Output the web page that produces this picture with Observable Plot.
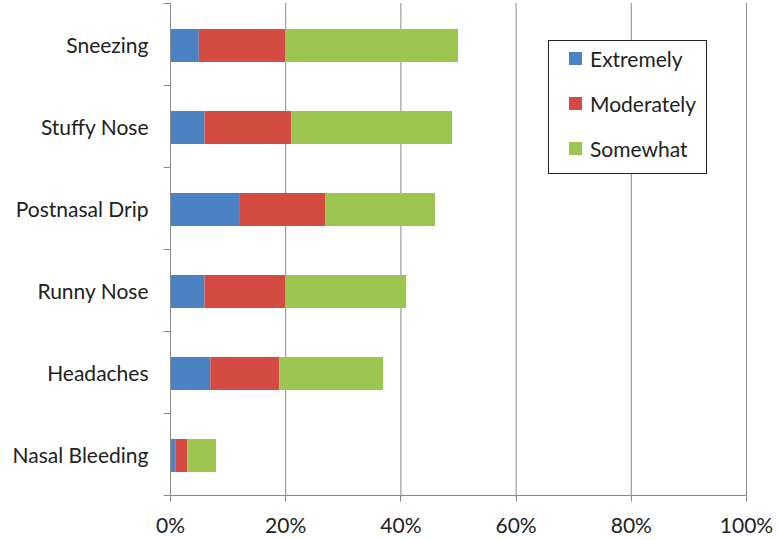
<!DOCTYPE html>
<html>
<head>
<meta charset="utf-8">
<script src="https://cdn.jsdelivr.net/npm/d3@7"></script>
<script src="https://cdn.jsdelivr.net/npm/@observablehq/plot@0.6"></script>
<style>
  html, body { margin: 0; padding: 0; background: #fff; }
  #wrap { position: relative; width: 781px; height: 540px; font-family: Lato, "Open Sans", sans-serif; }
  #legend { position: absolute; left: 548px; top: 40px; width: 159px; height: 134px; border: 1.5px solid #222; box-sizing: border-box; background: #fff; }
  #legend .item { position: absolute; left: 20px; display: flex; align-items: center; font-size: 21px; line-height: 25px; color: #222; }
  #legend .sw { width: 13px; height: 13px; margin-right: 8px; }
</style>
</head>
<body>
<div id="wrap"></div>
<script>
const categories = ["Sneezing", "Stuffy Nose", "Postnasal Drip", "Runny Nose", "Headaches", "Nasal Bleeding"];
const levels = ["Extremely", "Moderately", "Somewhat"];
const extremely = [5, 6, 12, 6, 7, 1];
const moderately = [15, 15, 15, 14, 12, 2];
const somewhat = [30, 28, 19, 21, 18, 5];
const colors = ["#4a82c3", "#d44b43", "#9cc64f"];
const xTicks = [0, 20, 40, 60, 80, 100];

const series = [extremely, moderately, somewhat];
const data = [];
categories.forEach((c, i) => {
  levels.forEach((l, j) => data.push({ category: c, level: l, value: series[j][i] }));
});

const axisLines = (index, scales, values, dims) => {
  const g = d3.create("svg:g").attr("stroke", "#8a8a8a").attr("stroke-width", 1);
  const y = scales.y;
  const step = y.step();
  const x = scales.x;
  const x0 = Math.round(x(0)) + 0.5;
  const top = dims.marginTop;
  const bottom = Math.round(top + categories.length * step) + 0.5;
  for (let k = 0; k < categories.length; k++) {
    const yy = Math.round(top + k * step) + 0.5;
    g.append("line").attr("x1", x0 - 7).attr("x2", x0).attr("y1", yy).attr("y2", yy);
  }
  g.append("line").attr("x1", x0 - 7).attr("x2", x(100)).attr("y1", bottom).attr("y2", bottom);
  xTicks.forEach(t => {
    const xx = Math.round(x(t)) + 0.5;
    g.append("line").attr("x1", xx).attr("x2", xx).attr("y1", bottom).attr("y2", bottom + 6);
  });
  g.append("line").attr("x1", x0).attr("x2", x0).attr("y1", top).attr("y2", bottom);
  return g.node();
};

const chart = Plot.plot({
  width: 781,
  height: 540,
  marginLeft: 170,
  marginRight: 35,
  marginTop: 3,
  marginBottom: 43,
  style: { fontFamily: "Lato, 'Open Sans', sans-serif", fontSize: "21px", color: "#222", background: "#fff" },
  x: { domain: [0, 100], ticks: xTicks, tickFormat: d => d + "%", label: null },
  y: { domain: categories, paddingInner: 0.6, paddingOuter: 0.3, label: null },
  color: { domain: levels, range: colors },
  marks: [
    Plot.ruleX(xTicks.filter(d => d > 0), { stroke: "#8a8a8a", strokeWidth: 1 }),
    Plot.barX(data, Plot.stackX({ x: "value", y: "category", fill: "level", order: levels })),
    axisLines,
    Plot.axisX({ ticks: xTicks, tickFormat: d => d + "%", tickSize: 0, tickPadding: 21, fontSize: 21, label: null }),
    Plot.axisY({ tickSize: 0, tickPadding: 22, fontSize: 21, label: null })
  ]
});

const wrap = document.getElementById("wrap");
wrap.appendChild(chart);

const legend = document.createElement("div");
legend.id = "legend";
levels.forEach((l, i) => {
  const item = document.createElement("div");
  item.className = "item";
  item.style.top = (5 + i * 45) + "px";
  const sw = document.createElement("span");
  sw.className = "sw";
  sw.style.background = colors[i];
  const t = document.createElement("span");
  t.textContent = l;
  item.appendChild(sw);
  item.appendChild(t);
  legend.appendChild(item);
});
wrap.appendChild(legend);
</script>
</body>
</html>
